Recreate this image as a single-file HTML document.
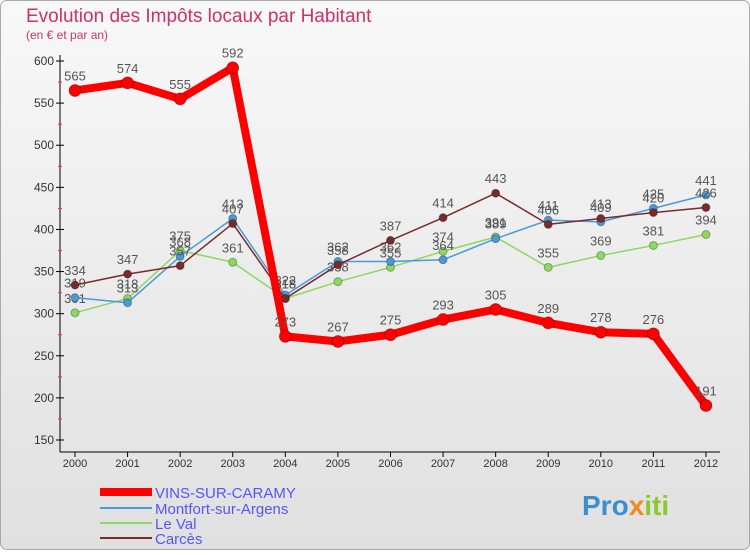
<!DOCTYPE html>
<html><head><meta charset="utf-8"><style>
body{margin:0;width:750px;height:550px;overflow:hidden;font-family:"Liberation Sans",sans-serif}
</style></head><body>
<svg width="750" height="550" xmlns="http://www.w3.org/2000/svg">
<defs><linearGradient id="bg" x1="0" y1="0" x2="0" y2="1"><stop offset="0" stop-color="#f8f8f8"/><stop offset="1" stop-color="#e0e0e0"/></linearGradient></defs>
<rect x="0.5" y="0.5" width="749" height="549" rx="6" fill="url(#bg)" stroke="#aaa"/>
<text x="26" y="22" font-size="19" fill="#d0306a">Evolution des Impôts locaux par Habitant</text>
<text x="26" y="39" font-size="12" fill="#d0306a">(en € et par an)</text>
<g id="axes"></g><g id="series"></g>
<g>
<line x1="100" y1="492" x2="152" y2="492" stroke="#f00" stroke-width="8"/><text x="155" y="498" font-size="15" fill="#55f">VINS-SUR-CARAMY</text>
<line x1="100" y1="508" x2="152" y2="508" stroke="#4a9ad8" stroke-width="2"/><text x="155" y="514" font-size="15" fill="#55f">Montfort-sur-Argens</text>
<line x1="100" y1="523" x2="152" y2="523" stroke="#8cd860" stroke-width="2"/><text x="155" y="529" font-size="15" fill="#55f">Le Val</text>
<line x1="100" y1="538" x2="152" y2="538" stroke="#7a2a2a" stroke-width="2"/><text x="155" y="544" font-size="15" fill="#55f">Carcès</text>
</g>
<text x="582" y="515" font-size="28" font-weight="bold" fill="#3a8fd0">Pro<tspan fill="#f08a20">x</tspan><tspan fill="#8cc830">iti</tspan></text>
</svg>
<script>
const years=[2000,2001,2002,2003,2004,2005,2006,2007,2008,2009,2010,2011,2012];
const yTicks=[150,200,250,300,350,400,450,500,550,600];
const vins=[565,574,555,592,273,267,275,293,305,289,278,276,191];
const montfort=[319,313,368,413,322,362,362,364,389,411,409,425,441];
const leval=[301,318,375,361,318,338,355,374,391,355,369,381,394];
const carces=[334,347,357,407,318,358,387,414,443,406,413,420,426];
const NS="http://www.w3.org/2000/svg";
const X=i=>75+i*52.58, Y=v=>440-(v-150)*379/450;
function mk(t,a,p){const e=document.createElementNS(NS,t);for(const k in a)e.setAttribute(k,a[k]);p.appendChild(e);return e;}
const ax=document.getElementById('axes');
let l=mk('line',{x1:60,y1:55,x2:60,y2:452,stroke:'#000'},ax);


l=mk('line',{x1:60,y1:452,x2:720,y2:452,stroke:'#000'},ax);


yTicks.forEach((v,k)=>{const y=Y(v);
mk('line',{x1:56,y1:y,x2:64,y2:y,stroke:'#000'},ax);
if(k<yTicks.length-1)mk('line',{x1:58,y1:y-21,x2:62,y2:y-21,stroke:'#e33'},ax);
const t=mk('text',{x:54,y:y+4,'font-size':12,'text-anchor':'end',fill:'#333'},ax);t.textContent=v;

});
years.forEach((yr,i)=>{const x=X(i);
mk('line',{x1:x,y1:452,x2:x,y2:457,stroke:'#000'},ax);
const t=mk('text',{x:x,y:467,'font-size':11,'text-anchor':'middle',fill:'#333'},ax);t.textContent=yr;

});
const sg=document.getElementById('series');
function series(vals,col,w,r,name){
const g=mk('g',{},sg);


mk('polyline',{points:vals.map((v,i)=>X(i)+','+Y(v)).join(' '),fill:'none',stroke:col,'stroke-width':w,'stroke-linejoin':'round'},g);
vals.forEach((v,i)=>{const c=mk('circle',{cx:X(i),cy:Y(v),r:r,fill:col,stroke:'rgba(0,0,0,0.3)'},g);


const t=mk('text',{x:X(i),y:Y(v)-10,'font-size':13,'text-anchor':'middle',fill:'#555'},g);t.textContent=v;

});
}
series(leval,'#8cd860',1.5,4,'series-leval');
series(montfort,'#4a9ad8',1.5,4,'series-montfort');
series(carces,'#7a2a2a',1.5,4,'series-carces');
series(vins,'#f00',8,6,'series-vins');
</script>
</body></html>
